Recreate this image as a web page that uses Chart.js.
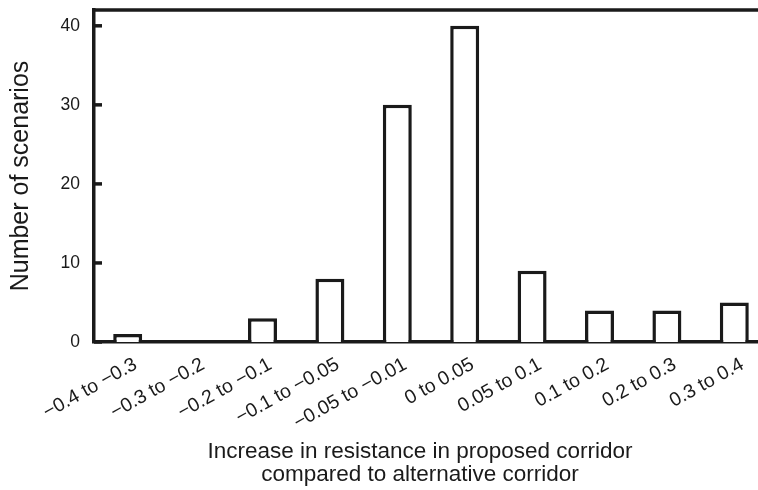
<!DOCTYPE html>
<html lang="en">
<head>
  <meta charset="UTF-8" />
  <title>Resistance increase scenarios</title>
  <style>
    html, body {
      margin: 0;
      padding: 0;
      background: white;
      overflow: hidden;
    }
    #wrap {
      width: 758px;
      height: 490px;
      overflow: hidden;
    }
  </style>
</head>
<body>
  <div id="wrap">
    <canvas id="barChart" width="768" height="490"></canvas>
  </div>

  <script src="https://cdn.jsdelivr.net/npm/chart.js"></script>
  <script>
    const categories = [
      '\u22120.4 to \u22120.3', '\u22120.3 to \u22120.2', '\u22120.2 to \u22120.1',
      '\u22120.1 to \u22120.05', '\u22120.05 to \u22120.01', '0 to 0.05',
      '0.05 to 0.1', '0.1 to 0.2', '0.2 to 0.3', '0.3 to 0.4'
    ];
    const scenarioCounts = [1, 0, 3, 8, 30, 40, 9, 4, 4, 5];
    const yTicks = [0, 10, 20, 30, 40];
    const xTitle = ['Increase in resistance in proposed corridor', 'compared to alternative corridor'];

    const ink = '#1a1a1a';
    const font = 'Liberation Sans, Arial, Helvetica, sans-serif';
    const lineW = 3.5;

    // top frame line, inward y ticks and the two-line x title
    const framePlugin = {
      id: 'frame',
      afterDraw(chart) {
        const ctx = chart.ctx;
        const area = chart.chartArea;
        const y = chart.scales.y;
        ctx.save();
        ctx.strokeStyle = ink;
        ctx.lineWidth = lineW;
        ctx.beginPath();
        ctx.moveTo(area.left - lineW / 2, area.top);
        ctx.lineTo(area.right, area.top);
        ctx.stroke();
        yTicks.forEach(v => {
          const py = y.getPixelForValue(v);
          ctx.beginPath();
          ctx.moveTo(area.left, py);
          ctx.lineTo(area.left + 8, py);
          ctx.stroke();
        });
        ctx.fillStyle = ink;
        ctx.font = '22.5px ' + font;
        ctx.textAlign = 'center';
        ctx.textBaseline = 'middle';
        ctx.fillText(xTitle[0], 420, 452);
        ctx.fillText(xTitle[1], 420, 475);
        ctx.restore();
      }
    };

    new Chart(document.getElementById('barChart').getContext('2d'), {
      type: 'bar',
      data: {
        labels: categories,
        datasets: [{
          data: scenarioCounts,
          backgroundColor: 'white',
          borderColor: ink,
          borderWidth: lineW,
          categoryPercentage: 1,
          barPercentage: 0.43
        }]
      },
      options: {
        responsive: false,
        animation: false,
        layout: { padding: { top: 10, right: 0, left: 0, bottom: 0 } },
        plugins: {
          legend: { display: false },
          tooltip: { enabled: false }
        },
        scales: {
          x: {
            grid: { display: false, drawTicks: false },
            border: { display: true, color: ink, width: lineW },
            ticks: {
              color: ink,
              font: { family: font, size: 19.5 },
              maxRotation: 29,
              minRotation: 29,
              autoSkip: false,
              padding: 11,
              labelOffset: 8
            },
            afterFit(scale) {
              scale.height = 148;
              scale.paddingLeft = 0;
              scale.paddingRight = 0;
            }
          },
          y: {
            min: 0,
            max: 42,
            grid: { display: false, drawTicks: false },
            border: { display: true, color: ink, width: lineW },
            afterBuildTicks(scale) {
              scale.ticks = yTicks.map(v => ({ value: v }));
            },
            ticks: {
              color: ink,
              font: { family: font, size: 17.5 },
              padding: 14
            },
            title: {
              display: true,
              text: 'Number of scenarios',
              color: ink,
              font: { family: font, size: 25 },
              padding: { top: 6, bottom: 0 }
            },
            afterFit(scale) {
              scale.width = 94;
              scale.paddingTop = 0;
              scale.paddingBottom = 0;
            }
          }
        }
      },
      plugins: [framePlugin]
    });
  </script>
</body>
</html>
